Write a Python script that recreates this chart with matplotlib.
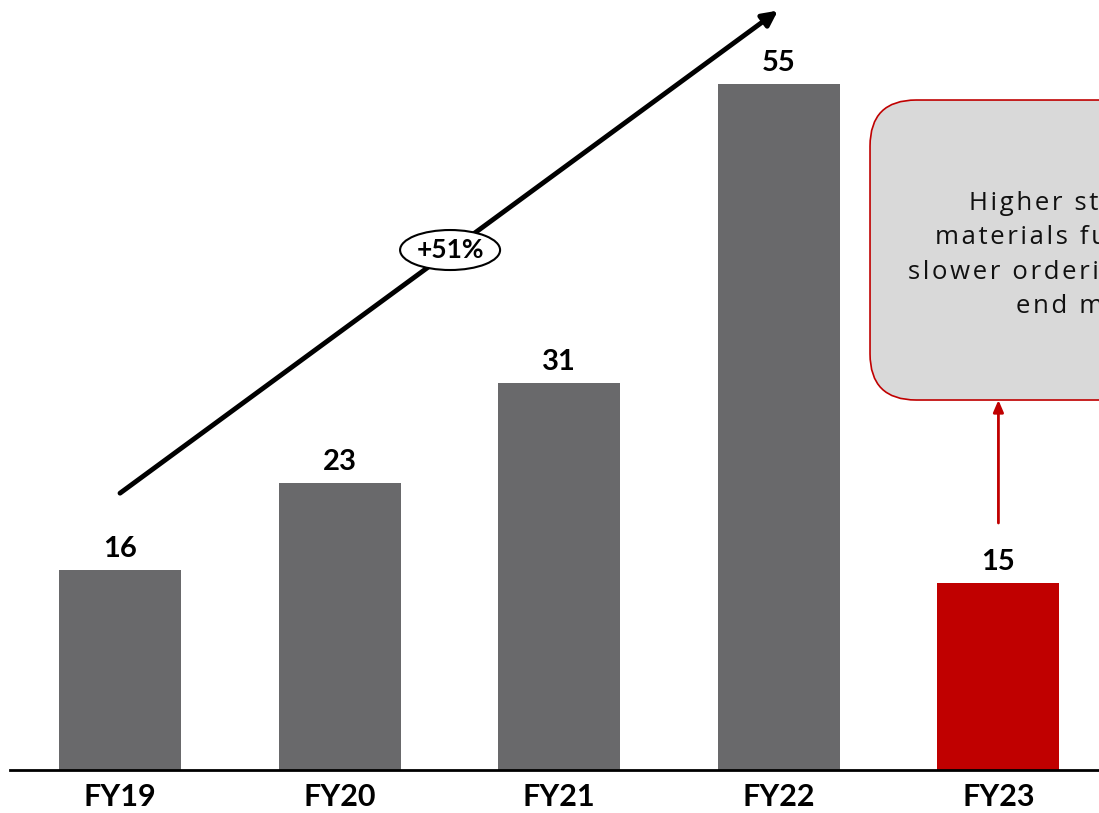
import numpy as np
import matplotlib.pyplot as plt
from matplotlib.patches import FancyBboxPatch, Ellipse

# data
years = ["FY19", "FY20", "FY21", "FY22", "FY23"]
values = [16, 23, 31, 55, 15]
bar_colors = ["#69696b", "#69696b", "#69696b", "#69696b", "#c00000"]
cagr_label = "+51%"
note_lines = ["Higher steel prices", "materials further led to", "slower ordering in multiple", "end markets"]

bold_font = ["Lato", "DejaVu Sans"]

fig = plt.figure(figsize=(10.99, 8.13), dpi=100)
ax = fig.add_axes([10 / 1099, 43 / 813, 1089 / 1099, 770 / 813])

x = np.arange(len(years))
ax.bar(x, values, width=0.556, color=bar_colors, zorder=2)
ax.set_xlim(-0.501, 4.458)
ax.set_ylim(0, 61.75)

for xi, v in zip(x, values):
    ax.annotate(str(v), (xi, v), xytext=(0, 6), textcoords="offset points",
                ha="center", va="bottom", fontsize=21, fontweight="bold",
                family=bold_font)

for s in ["top", "right", "left"]:
    ax.spines[s].set_visible(False)
ax.spines["bottom"].set_linewidth(2)
ax.set_yticks([])
ax.set_xticks(x)
ax.set_xticklabels(years, fontsize=22, fontweight="bold", family=bold_font)
ax.tick_params(axis="x", length=0, pad=9)

# growth arrow
ax.annotate("", xy=(2.996, 60.9), xytext=(0, 22.2),
            arrowprops=dict(arrowstyle="-|>,head_length=0.9,head_width=0.45",
                            color="black", lw=3.5, shrinkA=0, shrinkB=0),
            annotation_clip=False, zorder=3)
ell = Ellipse((1.503, 41.7), width=100 / 219.6, height=40 / 12.47,
              facecolor="white", edgecolor="black", lw=1.5, zorder=4)
ax.add_patch(ell)
ax.text(1.503, 41.7, cagr_label, ha="center", va="center", fontsize=19,
        fontweight="bold", family=bold_font, zorder=5)

# note box (runs off the right edge, as in the source slide)
bx0 = (870 - 120) / 219.6
by0 = (770 - 400) / 12.47
bw = 480 / 219.6
bh = 300 / 12.47
box = FancyBboxPatch((bx0, by0), bw, bh,
                     boxstyle="round,pad=0,rounding_size=0.21",
                     mutation_aspect=219.6 / 12.47,
                     facecolor="#d9d9d9", edgecolor="#c00000", lw=1.2,
                     clip_on=False, zorder=3)
ax.add_patch(box)
spaced = "\n".join("\u200a".join(line) for line in note_lines)
ax.text(bx0 + bw / 2 - 6 / 219.6, by0 + bh / 2 - 0.4, spaced, ha="center", va="center",
        fontsize=18.5, linespacing=1.5, family=["Open Sans", "DejaVu Sans"],
        color="#111111", zorder=4, clip_on=False)

# red arrow
ax.annotate("", xy=(4, by0), xytext=(4, (770 - 523) / 12.47),
            arrowprops=dict(arrowstyle="-|>,head_length=0.7,head_width=0.3",
                            color="#c00000", lw=2, shrinkA=0, shrinkB=0),
            zorder=3)

fig.savefig("out.png", dpi=100)
